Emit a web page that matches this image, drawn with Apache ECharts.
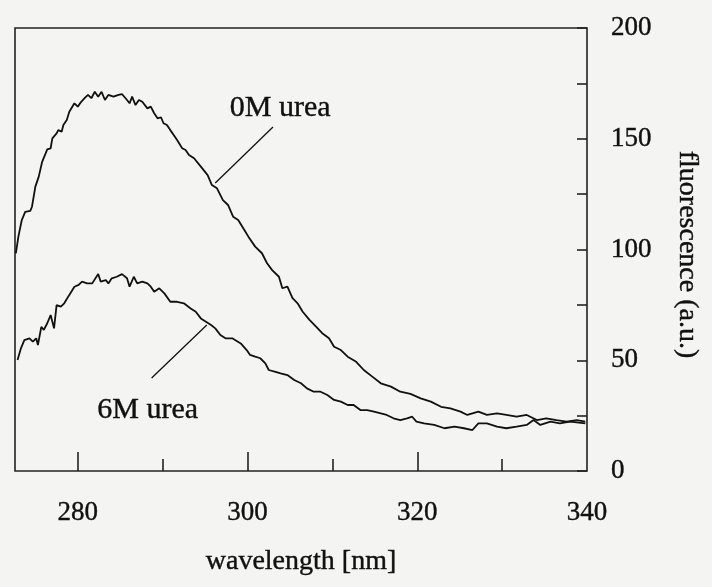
<!DOCTYPE html>
<html>
<head>
<meta charset="utf-8">
<script src="https://cdn.jsdelivr.net/npm/echarts@6/dist/echarts.min.js"></script>
<style>
  html, body { margin: 0; padding: 0; background: #f4f4f2; }
  #main { width: 712px; height: 587px; }
</style>
</head>
<body>
<div id="main"></div>
<script>
// wavelength / intensity
var wl0 = [272.7, 273.0, 273.4, 273.8, 274.4, 274.6, 275.0, 275.4, 275.8, 276.0, 276.4, 276.8, 277.0, 277.5, 277.7, 278.1, 278.3, 278.7, 279.0, 279.2,
  279.6, 280.0, 280.4, 280.8, 281.2, 281.6, 282.0, 282.4, 282.8, 283.2, 283.6, 284.2, 284.8, 285.2, 285.8, 286.1, 286.4, 286.8, 287.2, 287.6,
  288.2, 288.6, 289.0, 289.4, 289.8, 290.1, 290.5, 290.9, 291.3, 291.7, 292.3, 292.7, 293.1, 293.7, 294.5, 295.3, 295.8, 296.4, 297.1, 297.7,
  298.3, 298.9, 299.5, 300.1, 300.9, 301.7, 302.3, 302.9, 303.7, 304.1, 304.7, 305.3, 305.9, 306.5, 307.3, 308.1, 308.8, 309.6, 310.2, 311.0,
  311.8, 312.8, 313.7, 314.7, 315.7, 316.9, 318.0, 319.2, 320.4, 321.6, 322.8, 323.9, 325.1, 325.9, 327.2, 328.2, 329.4, 330.5, 331.7, 332.9,
  334.1, 335.2, 336.4, 337.6, 338.8, 339.8];
var urea0 = [98.3, 105.8, 113.3, 117, 117.4, 119.3, 128.4, 132.9, 139.6, 140.4, 145.2, 145.7, 150.2, 152.4, 153.9, 153.2, 156.2, 158.5, 162.2, 161.5,
  166, 164.5, 166.7, 168.3, 169.8, 168.3, 171.2, 169, 171.2, 167.5, 169.8, 169, 169.8, 170.2, 167.5, 166, 169, 165.2, 167.5, 166.7,
  163.7, 164.5, 161.5, 159.2, 159.7, 157, 156.2, 153.9, 151.7, 149.4, 145.7, 144.9, 142.7, 141.2, 137.4, 133.6, 129.1, 127.6, 122.3, 120.1,
  114.8, 113.3, 109.6, 105.8, 101.3, 98.3, 93.8, 90.7, 87.7, 82.5, 83.2, 78, 75.7, 71.9, 68.2, 65.1, 62.2, 59.9, 56.1, 54.6,
  51.6, 49.3, 45.6, 42.6, 39.6, 38.1, 35.8, 34.8, 32.8, 31.3, 29, 28.3, 26.8, 25.3, 26.8, 25.3, 26, 25.3, 24.5, 25.3,
  23, 23.8, 23, 22.3, 23, 22.3];

var wl6 = [272.9, 273.3, 273.7, 274.3, 274.7, 275.1, 275.3, 275.7, 276.0, 276.4, 276.8, 277.2, 277.5, 278.0, 278.4, 279.0, 279.6, 280.1, 280.5, 281.1,
  281.7, 282.4, 282.7, 283.3, 283.6, 284.0, 284.6, 285.2, 285.8, 286.1, 286.6, 287.0, 287.6, 288.2, 288.6, 289.0, 289.6, 290.2, 290.9, 291.7,
  292.5, 293.3, 293.9, 294.5, 295.1, 295.7, 296.2, 296.8, 297.4, 298.2, 299.2, 299.9, 300.3, 300.9, 301.5, 302.1, 302.5, 303.3, 303.9, 304.7,
  305.5, 306.3, 307.0, 307.8, 308.6, 309.4, 310.2, 311.0, 311.8, 312.5, 313.3, 314.1, 314.9, 315.7, 316.4, 317.2, 318.0, 318.8, 319.4, 319.9,
  320.8, 322.0, 323.2, 324.4, 325.5, 326.5, 327.2, 328.2, 329.4, 330.5, 331.7, 332.9, 333.7, 334.5, 335.7, 336.8, 338.0, 339.8];
var urea6 = [50.1, 55.4, 59.1, 59.9, 58.4, 59.9, 56.9, 65.1, 63.7, 66.7, 70.4, 64.4, 74.9, 74.2, 75.7, 79.5, 83.2, 84, 85.5, 84.7,
  84.7, 88.9, 85.5, 86.2, 84.7, 87, 87.7, 88.9, 87, 83.2, 87.7, 84.7, 85.5, 84.7, 83.2, 80.9, 82.5, 80.2, 76.4, 76.4,
  75.7, 73.4, 71.9, 68.9, 67.4, 65.9, 64.4, 61.4, 59.9, 59.9, 57.6, 54.6, 52.4, 51.6, 50.9, 48.6, 45.6, 44.8, 44.1, 43.3,
  41.1, 39.6, 37.3, 35.8, 35.8, 34.3, 32.1, 31.3, 29.8, 29.8, 27.5, 27.5, 26.8, 26, 25.3, 23.8, 23, 23.8, 24.5, 22.3,
  21.5, 20.8, 19.3, 20, 19.3, 18.5, 21.5, 21.5, 20, 19.3, 20, 20.8, 23, 20.8, 22.3, 21.5, 22.3, 21.5];

var xMajorTicks = [280, 300, 320];
var xMinorTicks = [290, 310, 330];
var xLabels = [280, 300, 320, 340];
var yLabels = [0, 50, 100, 150, 200];

// annotation text and leader lines (data coordinates)
var labels = [
  { text: "0M urea", at: [297.9, 163.9] },
  { text: "6M urea", at: [282.3, 27.5] }
];
var leader0 = [[296.2, 130], [303.0, 155.3]];
var leader6 = [[288.7, 42], [295.2, 65.9]];

function pairs(xs, ys) {
  return xs.map(function (x, i) { return [x, ys[i]]; });
}

var ink = "#111111";
var serif = "Liberation Serif";
// scanned print: text a little heavier than a plain rendering
var heavy = { textBorderColor: ink, textBorderWidth: 0.4 };

var myChart = echarts.init(document.getElementById("main"));

var option = {
  backgroundColor: "#f4f4f2",
  animation: false,
  textStyle: { fontFamily: serif, color: ink },
  grid: {
    left: 15, right: 125, top: 28, bottom: 116,
    show: true, borderColor: "#222222", borderWidth: 1.6, backgroundColor: "transparent"
  },
  xAxis: [
    {
      type: "value", min: 272.6, max: 340, position: "bottom",
      name: "wavelength [nm]", nameLocation: "middle", nameGap: 77,
      nameTextStyle: Object.assign({ fontFamily: serif, fontSize: 28, color: ink }, heavy),
      axisLine: { show: false },
      splitLine: { show: false },
      axisTick: { inside: true, length: 19, customValues: xMajorTicks, lineStyle: { color: "#222", width: 1.6 } },
      axisLabel: Object.assign({ customValues: xLabels, margin: 28, fontFamily: serif, fontSize: 27, color: ink }, heavy)
    },
    {
      type: "value", min: 272.6, max: 340, position: "bottom",
      axisLine: { show: false },
      splitLine: { show: false },
      axisTick: { inside: true, length: 12, customValues: xMinorTicks, lineStyle: { color: "#222", width: 1.6 } },
      axisLabel: { show: false }
    }
  ],
  yAxis: {
    type: "value", min: 0, max: 200, interval: 25, position: "right",
    name: "fluorescence (a.u.)", nameLocation: "middle", nameGap: 86, nameRotate: -90,
    nameTextStyle: Object.assign({ fontFamily: serif, fontSize: 28, color: ink, padding: [0, 0, 0, 10] }, heavy),
    axisLine: { show: false },
    splitLine: { show: false },
    axisTick: { inside: true, length: 10, lineStyle: { color: "#222", width: 1.6 } },
    axisLabel: Object.assign({ customValues: yLabels, margin: 24, fontFamily: serif, fontSize: 27, color: ink }, heavy)
  },
  series: [
    {
      name: "0M urea", type: "line", data: pairs(wl0, urea0),
      showSymbol: false, lineStyle: { color: ink, width: 1.8 }
    },
    {
      name: "6M urea", type: "line", data: pairs(wl6, urea6),
      showSymbol: false, lineStyle: { color: ink, width: 1.8 }
    },
    {
      type: "line", data: leader0, showSymbol: false, silent: true,
      lineStyle: { color: ink, width: 1.3 }
    },
    {
      type: "line", data: leader6, showSymbol: false, silent: true,
      lineStyle: { color: ink, width: 1.3 }
    },
    {
      type: "scatter", symbolSize: 0, silent: true,
      itemStyle: { opacity: 1 },
      data: labels.map(function (d) { return { value: d.at, name: d.text }; }),
      label: Object.assign({
        show: true, position: "right", distance: 0,
        formatter: "{b}", fontFamily: serif, fontSize: 30, color: ink
      }, heavy)
    }
  ]
};

myChart.setOption(option);
</script>
</body>
</html>
